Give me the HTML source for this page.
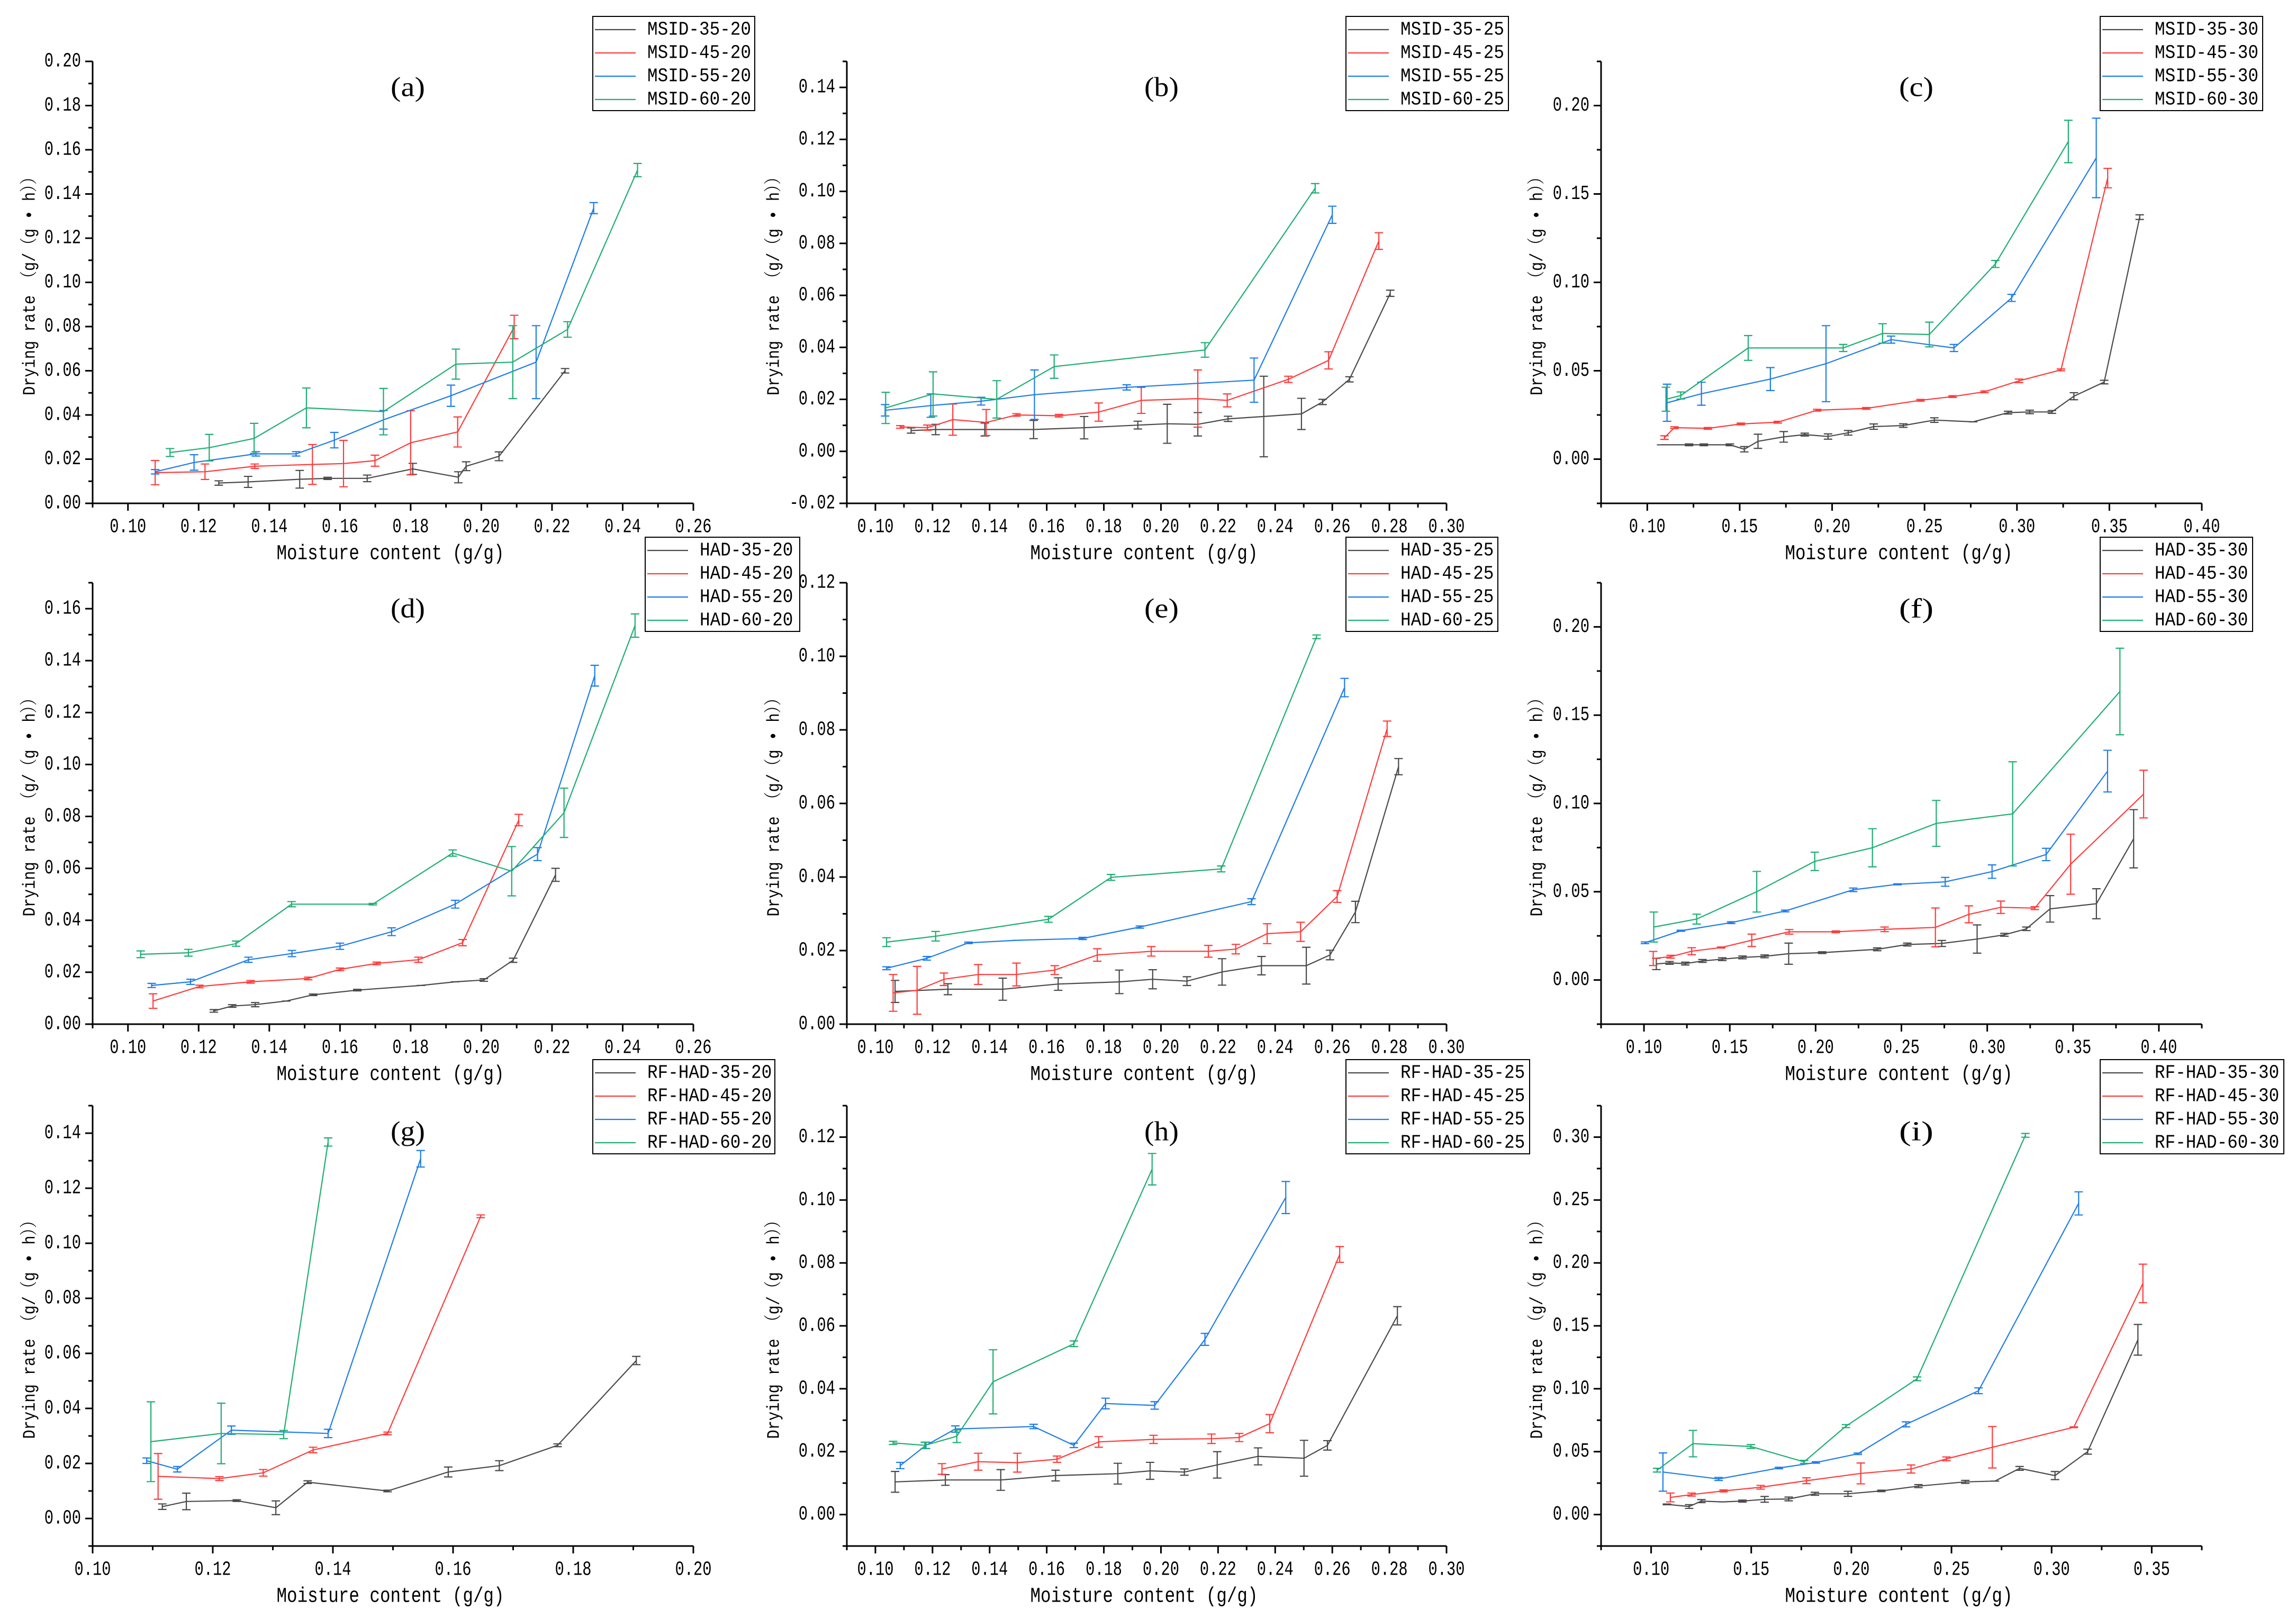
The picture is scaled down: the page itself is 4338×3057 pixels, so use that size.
<!DOCTYPE html>
<html><head><meta charset="utf-8"><style>html,body{margin:0;padding:0;background:#fff}svg{display:block}</style></head>
<body>
<svg id="fig" xmlns="http://www.w3.org/2000/svg" width="4338" height="3057" viewBox="0 0 4338 3057"></svg>
<script>
// ---- data (moisture content x, drying rate y, error e) ----
const a35x=[0.1257,0.134,0.1486,0.1565,0.1677,0.1806,0.1935,0.1957,0.205,0.2237];
const a35y=[0.0092,0.0097,0.0109,0.0113,0.0113,0.0156,0.0118,0.0168,0.0213,0.060];
const a35e=[0.001,0.0025,0.004,0.0005,0.0015,0.0025,0.0025,0.002,0.002,0.001];
const a45x=[0.1077,0.1218,0.1359,0.1522,0.161,0.1699,0.18,0.1933,0.2093];
const a45y=[0.0139,0.0143,0.0168,0.0176,0.018,0.0193,0.0274,0.0323,0.0798];
const a45e=[0.0055,0.0035,0.001,0.009,0.0105,0.0025,0.0145,0.0068,0.0053];
const a55x=[0.1077,0.1187,0.1362,0.1476,0.1584,0.1723,0.1914,0.2155,0.2318];
const a55y=[0.0143,0.0185,0.0224,0.0224,0.0286,0.0378,0.0487,0.0639,0.1336];
const a55e=[0.001,0.0035,0.001,0.001,0.0035,0.0042,0.0048,0.0165,0.0025];
const a60x=[0.1119,0.123,0.1357,0.1505,0.1723,0.1928,0.2089,0.2244,0.2442];
const a60y=[0.023,0.0252,0.0294,0.0432,0.0415,0.063,0.0639,0.0787,0.1508];
const a60e=[0.0018,0.006,0.0068,0.009,0.0105,0.0068,0.0165,0.0035,0.003];

const b35x=[0.1125,0.1211,0.1383,0.1554,0.1731,0.1919,0.2022,0.2129,0.2235,0.236,0.2492,0.2566,0.266,0.2803];
const b35y=[0.008,0.0084,0.0084,0.0084,0.0091,0.0101,0.0106,0.0104,0.0125,0.0134,0.0144,0.019,0.0277,0.0608];
const b35e=[0.001,0.002,0.0025,0.0035,0.0043,0.0015,0.0075,0.0045,0.001,0.0155,0.006,0.001,0.001,0.0012];
const b45x=[0.1087,0.1182,0.1271,0.1388,0.1494,0.1643,0.1782,0.1931,0.2129,0.2232,0.2446,0.2587,0.2763];
const b45y=[0.0094,0.0091,0.0122,0.0111,0.014,0.0137,0.0151,0.0196,0.0203,0.0196,0.0277,0.035,0.0809];
const b45e=[0.0005,0.001,0.006,0.005,0.0005,0.0005,0.0035,0.005,0.011,0.0025,0.0012,0.0033,0.0032];
const b55x=[0.1034,0.1194,0.137,0.1557,0.188,0.2326,0.26];
const b55y=[0.0158,0.0176,0.0193,0.0218,0.0246,0.0274,0.091];
const b55e=[0.0022,0.0045,0.0015,0.0095,0.001,0.0085,0.0033];
const b60x=[0.1036,0.1202,0.1425,0.1626,0.2154,0.254];
const b60y=[0.0167,0.0221,0.02,0.0326,0.039,0.1012];
const b60e=[0.006,0.0085,0.0072,0.0045,0.0028,0.0018];

const c35x=[0.1075,0.1226,0.1306,0.1447,0.1525,0.1599,0.1738,0.1852,0.1978,0.2087,0.2225,0.2385,0.2553,0.2763,0.2952,0.3069,0.3189,0.3308,0.3472,0.3664];
const c35y=[0.0081,0.0081,0.0081,0.0081,0.0056,0.0101,0.0126,0.0139,0.0128,0.0149,0.0184,0.019,0.0221,0.0211,0.0263,0.0267,0.0267,0.0356,0.0436,0.1369];
const c35e=[0,0.0005,0.0005,0.0005,0.0015,0.004,0.003,0.0008,0.0015,0.0013,0.0015,0.001,0.0013,0,0.0008,0.001,0.0008,0.002,0.001,0.0013];
const c45x=[0.1093,0.1147,0.1328,0.1506,0.1706,0.1919,0.2185,0.2478,0.2652,0.2825,0.3011,0.3238,0.3491];
const c45y=[0.0122,0.0178,0.0174,0.0199,0.0209,0.0277,0.0287,0.0333,0.0354,0.0381,0.0443,0.0505,0.159];
const c45e=[0.001,0.0005,0.0005,0.0005,0.0005,0.0005,0.0005,0.0005,0.0005,0.0005,0.001,0.0005,0.0055];
const c55x=[0.1107,0.1293,0.1666,0.1967,0.2319,0.2659,0.2971,0.3429];
const c55y=[0.0319,0.037,0.0453,0.054,0.0676,0.0629,0.0912,0.1704];
const c55e=[0.0105,0.0065,0.0065,0.0215,0.002,0.002,0.002,0.0225];
const c60x=[0.1101,0.1181,0.1546,0.206,0.2273,0.2526,0.2883,0.3278];
const c60y=[0.0339,0.036,0.0629,0.0629,0.0711,0.0705,0.1104,0.1797];
const c60e=[0.0068,0.002,0.007,0.002,0.0055,0.007,0.002,0.012];

const d35x=[0.1243,0.1295,0.136,0.1448,0.1524,0.1649,0.1829,0.1926,0.2007,0.209,0.221];
const d35y=[0.0051,0.007,0.0075,0.0089,0.0113,0.0131,0.0149,0.0163,0.017,0.0246,0.0575];
const d35e=[0.0005,0.0005,0.0008,0,0.0003,0.0003,0,0,0.0005,0.0008,0.0025];
const d45x=[0.1071,0.1202,0.1347,0.151,0.16,0.1704,0.1822,0.1947,0.2106];
const d45y=[0.0089,0.0145,0.0163,0.0176,0.0211,0.0234,0.0248,0.0314,0.0786];
const d45e=[0.0028,0.0005,0.0005,0.0005,0.0005,0.0005,0.001,0.0012,0.0022];
const d55x=[0.1067,0.1177,0.1341,0.1464,0.16,0.1746,0.1926,0.2159,0.2321];
const d55y=[0.0149,0.0163,0.0248,0.0272,0.03,0.0356,0.0462,0.0655,0.1342];
const d55e=[0.0008,0.001,0.001,0.0012,0.0012,0.0015,0.0015,0.0025,0.004];
const d60x=[0.1036,0.1171,0.1306,0.1463,0.1693,0.1919,0.2086,0.2234,0.2435];
const d60y=[0.0269,0.0275,0.031,0.0462,0.0462,0.0659,0.0589,0.0814,0.1535];
const d60e=[0.0013,0.0013,0.001,0.001,0.0003,0.0012,0.0095,0.0095,0.0045];

const e35x=[0.1069,0.1254,0.1446,0.164,0.1854,0.1971,0.2091,0.2214,0.2352,0.2509,0.2592,0.2681,0.2832];
const e35y=[0.0089,0.0095,0.0095,0.0109,0.0115,0.0122,0.0117,0.0142,0.0159,0.0159,0.0188,0.0305,0.07];
const e35e=[0.003,0.0015,0.003,0.0017,0.0032,0.0026,0.0012,0.0036,0.0025,0.005,0.0013,0.0029,0.0022];
const e45x=[0.1062,0.1146,0.124,0.136,0.1494,0.1628,0.1777,0.1966,0.2166,0.2262,0.2372,0.2489,0.2617,0.2792];
const e45y=[0.0085,0.0092,0.0122,0.0135,0.0135,0.0147,0.0188,0.0198,0.0198,0.0204,0.0246,0.0251,0.0347,0.0803];
const e45e=[0.005,0.0065,0.0017,0.0027,0.0031,0.0012,0.0017,0.0013,0.0016,0.0013,0.0027,0.0026,0.0016,0.0021];
const e55x=[0.1039,0.118,0.1326,0.1497,0.1726,0.1926,0.2317,0.2643];
const e55y=[0.0152,0.0179,0.0221,0.0228,0.0233,0.0264,0.0333,0.0915];
const e55e=[0.0004,0.0005,0.0002,0,0.0003,0.0003,0.0008,0.0025];
const e60x=[0.1039,0.1211,0.1606,0.1825,0.2211,0.2545];
const e60y=[0.0223,0.0239,0.0285,0.0399,0.0422,0.1053];
const e60e=[0.0012,0.0013,0.0008,0.0008,0.0008,0.0005];

const f35x=[0.1072,0.1149,0.1241,0.1341,0.1456,0.1574,0.1703,0.1843,0.2038,0.2359,0.2534,0.2735,0.2941,0.31,0.3228,0.3366,0.3636,0.3853];
const f35y=[0.0091,0.0097,0.0093,0.0108,0.0118,0.0128,0.0134,0.0149,0.0155,0.0174,0.0201,0.0207,0.0232,0.0256,0.029,0.0403,0.0432,0.08];
const f35e=[0.0032,0.0008,0.0008,0.0008,0.0008,0.0008,0.0008,0.006,0.0005,0.0008,0.0008,0.0017,0.008,0.0008,0.001,0.0075,0.0085,0.0165];
const f45x=[0.1054,0.1155,0.1278,0.145,0.1628,0.1846,0.2118,0.2402,0.2698,0.2893,0.3079,0.3277,0.3486,0.3911];
const f45y=[0.0122,0.0132,0.0163,0.0184,0.0225,0.0273,0.0273,0.0287,0.0298,0.0372,0.0412,0.0407,0.0656,0.1053];
const f45e=[0.004,0.0008,0.002,0.0003,0.0035,0.0013,0.0005,0.0013,0.011,0.0048,0.0035,0.0008,0.017,0.0135];
const f55x=[0.1006,0.1215,0.1508,0.1823,0.2219,0.2477,0.2755,0.3028,0.3343,0.3701];
const f55y=[0.0211,0.0279,0.0325,0.0391,0.0511,0.0542,0.0556,0.0614,0.0711,0.1183];
const f55e=[0.0005,0.0003,0.0005,0.0005,0.001,0.0003,0.0025,0.0038,0.0035,0.0118];
const f60x=[0.1057,0.1307,0.1657,0.1995,0.2331,0.2703,0.3148,0.3773];
const f60y=[0.03,0.0345,0.05,0.0672,0.0749,0.0887,0.0941,0.1634];
const f60e=[0.0085,0.0028,0.0115,0.0052,0.0108,0.013,0.0295,0.0245];

const g35x=[0.1116,0.1156,0.124,0.1305,0.1358,0.1491,0.1592,0.1677,0.1774,0.1905];
const g35y=[0.0043,0.0062,0.0065,0.0039,0.0132,0.01,0.0169,0.0192,0.0266,0.0574];
const g35e=[0.001,0.003,0.0003,0.0025,0.0005,0.0003,0.0018,0.0018,0.0005,0.0015];
const g45x=[0.1109,0.1211,0.1284,0.1367,0.1491,0.1646];
const g45y=[0.0153,0.0145,0.0166,0.0249,0.0309,0.1098];
const g45e=[0.0083,0.0007,0.0012,0.001,0.0005,0.0005];
const g55x=[0.109,0.1141,0.1231,0.1392,0.1546];
const g55y=[0.021,0.0179,0.0321,0.0309,0.1307];
const g55e=[0.001,0.001,0.0015,0.0015,0.003];
const g60x=[0.1097,0.1214,0.1318,0.1392];
const g60y=[0.0279,0.0309,0.0305,0.1368];
const g60e=[0.0145,0.011,0.0015,0.0015];

const h35x=[0.1069,0.1245,0.1439,0.1631,0.1849,0.1962,0.2082,0.2197,0.234,0.2501,0.2583,0.2828];
const h35y=[0.0104,0.011,0.011,0.0124,0.013,0.0139,0.0135,0.0158,0.0185,0.0179,0.022,0.0632];
const h35e=[0.0033,0.0017,0.0033,0.0017,0.0033,0.0027,0.001,0.0042,0.0027,0.0057,0.0015,0.0029];
const h45x=[0.1233,0.136,0.1497,0.1636,0.1782,0.1974,0.2177,0.2274,0.2381,0.2626];
const h45y=[0.0145,0.0168,0.0165,0.0176,0.0231,0.0239,0.0241,0.0245,0.0289,0.0827];
const h45e=[0.0017,0.0027,0.003,0.001,0.0017,0.0013,0.0015,0.0013,0.0029,0.0025];
const h55x=[0.1087,0.1177,0.128,0.1554,0.1695,0.1806,0.1978,0.2154,0.2437];
const h55y=[0.0156,0.022,0.0272,0.028,0.022,0.0353,0.0347,0.0557,0.1008];
const h55e=[0.001,0.001,0.001,0.0007,0.0007,0.0017,0.0012,0.0019,0.0051];
const h60x=[0.1062,0.1173,0.1285,0.1412,0.1695,0.1969];
const h60y=[0.0228,0.022,0.0249,0.0422,0.0543,0.1098];
const h60e=[0.0005,0.001,0.002,0.0102,0.0009,0.005];

const i35x=[0.1079,0.119,0.1251,0.1357,0.1456,0.1567,0.1687,0.1818,0.1983,0.215,0.2335,0.2569,0.2717,0.284,0.3017,0.318,0.3431];
const i35y=[0.0081,0.0064,0.0107,0.0101,0.0107,0.0121,0.0124,0.0165,0.0165,0.0188,0.0226,0.026,0.0266,0.0367,0.031,0.05,0.1389];
const i35e=[0.0003,0.0015,0.0012,0,0.0008,0.0023,0.0015,0.0012,0.002,0.0006,0.0012,0.0012,0,0.0015,0.0032,0.002,0.0122];
const i45x=[0.1096,0.1202,0.1362,0.1547,0.1776,0.2047,0.2298,0.2475,0.2704,0.3111,0.3456];
const i45y=[0.0136,0.0159,0.0188,0.0217,0.0269,0.0327,0.0362,0.0443,0.0535,0.0694,0.1837];
const i45e=[0.0035,0.0012,0.0008,0.0015,0.0023,0.0083,0.0032,0.0015,0.0165,0.0003,0.0153];
const i55x=[0.1059,0.1337,0.1638,0.1823,0.2032,0.2273,0.2635,0.3135];
const i55y=[0.0338,0.0283,0.037,0.0414,0.0483,0.0717,0.0984,0.2473];
const i55e=[0.0152,0.0012,0.0006,0.0006,0.0006,0.002,0.0023,0.0092];
const i60x=[0.103,0.1209,0.1498,0.1764,0.1973,0.2328,0.2869];
const i60y=[0.0353,0.0564,0.0541,0.0419,0.0703,0.1079,0.3014];
const i60e=[0.0015,0.0105,0.0015,0.0012,0.0012,0.0015,0.0015];

const temps=["35","45","55","60"];
const colors=["#4a4a4a","#ff3b3b","#1f7de8","#1fae73"];

const NS="http://www.w3.org/2000/svg";
const svg=document.getElementById("fig");
function mk(tag,attrs,parent){const e=document.createElementNS(NS,tag);for(const k in attrs)e.setAttribute(k,attrs[k]);(parent||svg).appendChild(e);return e;}

const cols=[[175,1310],[1600,2733],[3025,4160]];
const rows=[[116,951],[1101,1935],[2089,2921]];
const panels=[
 {id:"a",pre:"MSID",suf:"20",c:0,r:0,x:[0.09,0.26,0.10,0.26,0.02],y:[0,0.20,0,0.20,0.02],lg:[1120,31,306],series:[[a35x,a35y,a35e],[a45x,a45y,a45e],[a55x,a55y,a55e],[a60x,a60y,a60e]]},
 {id:"b",pre:"MSID",suf:"25",c:1,r:0,x:[0.09,0.30,0.10,0.30,0.02],y:[-0.02,0.15,-0.02,0.14,0.02],lg:[2543,31,307],series:[[b35x,b35y,b35e],[b45x,b45y,b45e],[b55x,b55y,b55e],[b60x,b60y,b60e]]},
 {id:"c",pre:"MSID",suf:"30",c:2,r:0,x:[0.075,0.40,0.10,0.40,0.05],y:[-0.025,0.225,0,0.20,0.05],lg:[3968,31,307],series:[[c35x,c35y,c35e],[c45x,c45y,c45e],[c55x,c55y,c55e],[c60x,c60y,c60e]]},
 {id:"d",pre:"HAD",suf:"20",c:0,r:1,x:[0.09,0.26,0.10,0.26,0.02],y:[0,0.17,0,0.16,0.02],lg:[1219,1015,292],series:[[d35x,d35y,d35e],[d45x,d45y,d45e],[d55x,d55y,d55e],[d60x,d60y,d60e]]},
 {id:"e",pre:"HAD",suf:"25",c:1,r:1,x:[0.09,0.30,0.10,0.30,0.02],y:[0,0.12,0,0.12,0.02],lg:[2543,1015,287],series:[[e35x,e35y,e35e],[e45x,e45y,e45e],[e55x,e55y,e55e],[e60x,e60y,e60e]]},
 {id:"f",pre:"HAD",suf:"30",c:2,r:1,x:[0.075,0.425,0.10,0.40,0.05],y:[-0.025,0.225,0,0.20,0.05],lg:[3968,1015,288],series:[[f35x,f35y,f35e],[f45x,f45y,f45e],[f55x,f55y,f55e],[f60x,f60y,f60e]]},
 {id:"g",pre:"RF-HAD",suf:"20",c:0,r:2,x:[0.10,0.20,0.10,0.20,0.02],y:[-0.01,0.15,0,0.14,0.02],lg:[1120,2002,344],series:[[g35x,g35y,g35e],[g45x,g45y,g45e],[g55x,g55y,g55e],[g60x,g60y,g60e]]},
 {id:"h",pre:"RF-HAD",suf:"25",c:1,r:2,x:[0.09,0.30,0.10,0.30,0.02],y:[-0.01,0.13,0,0.12,0.02],lg:[2543,2002,347],series:[[h35x,h35y,h35e],[h45x,h45y,h45e],[h55x,h55y,h55e],[h60x,h60y,h60e]]},
 {id:"i",pre:"RF-HAD",suf:"30",c:2,r:2,x:[0.075,0.375,0.10,0.35,0.05],y:[-0.025,0.325,0,0.30,0.05],lg:[3968,2002,347],series:[[i35x,i35y,i35e],[i45x,i45y,i45e],[i55x,i55y,i55e],[i60x,i60y,i60e]]}
];
const ylabX=[57,1463,2905];
const MONO='"Liberation Mono", monospace';

panels.forEach(p=>{
  const [L,R]=cols[p.c],[T,B]=rows[p.r];
  const g=mk("g",{});
  
  
  const X=v=>L+(v-p.x[0])/(p.x[1]-p.x[0])*(R-L);
  const Y=v=>B-(v-p.y[0])/(p.y[1]-p.y[0])*(B-T);
  // axes
  const ax=mk("path",{d:`M${L},${T} L${L},${B} L${R},${B}`,fill:"none",stroke:"#000","stroke-width":3},g);
  
  
  // x ticks
  const xs=p.x[4],nx=Math.round((p.x[1]-p.x[0])/(xs/2));
  for(let k=0;k<=nx+1;k++){
    const v=p.x[2]+ (k-Math.round((p.x[2]-p.x[0])/(xs/2)))*xs/2;
    if(v<p.x[0]-1e-9||v>p.x[1]+1e-9)continue;
    const major=Math.abs(((v-p.x[2])/xs)-Math.round((v-p.x[2])/xs))<1e-6;
    const px=X(v);
    mk("line",{x1:px,y1:B,x2:px,y2:B+(major?14:8),stroke:"#000","stroke-width":3},g);
    if(major&&v<=p.x[3]+1e-9){
      const t=mk("text",{x:px,y:B+45,"text-anchor":"middle","dominant-baseline":"central","font-family":MONO,"font-size":38,textLength:69,lengthAdjust:"spacingAndGlyphs",fill:"#000"},g);
      t.textContent=v.toFixed(2);
      
      
    }
  }
  // y ticks
  const ys=p.y[4];
  for(let v=p.y[2]-ys;v<=p.y[1]+1e-9;v+=ys/2){
    if(v<p.y[0]-1e-9)continue;
    const major=Math.abs(((v-p.y[2])/ys)-Math.round((v-p.y[2])/ys))<1e-6;
    const py=Y(v);
    mk("line",{x1:L,y1:py,x2:L-(major?14:8),y2:py,stroke:"#000","stroke-width":3},g);
    if(major&&v>=p.y[2]-ys-1e-9&&v<=p.y[3]+1e-9){
      const s=(v<0?"-":"")+Math.abs(v).toFixed(2);
      const t=mk("text",{x:L-22,y:py,"text-anchor":"end","dominant-baseline":"central","font-family":MONO,"font-size":38,textLength:s.length*17.3,lengthAdjust:"spacingAndGlyphs",fill:"#000"},g);
      t.textContent=s;
      
      
    }
  }
  // axis titles
  const xt=mk("text",{x:(L+R)/2-5,y:B+96,"text-anchor":"middle","dominant-baseline":"central","font-family":MONO,"font-size":40,textLength:430,lengthAdjust:"spacingAndGlyphs",fill:"#000"},g);
  xt.textContent="Moisture content (g/g)";
  
  
  const cy=(T+B)/2;
  const yt=mk("text",{x:ylabX[p.c],y:cy,transform:`rotate(-90 ${ylabX[p.c]} ${cy})`,"text-anchor":"middle","dominant-baseline":"central","font-family":'"Liberation Mono","Noto Serif CJK SC",monospace',"font-size":33,textLength:427,lengthAdjust:"spacingAndGlyphs",fill:"#000"},g);
  yt.textContent="Drying rate （g/（g • h））";
  
  
  // panel letter
  const pl=mk("text",{x:(L+R)/2+28,y:T+49,"text-anchor":"middle","dominant-baseline":"central","font-family":'"Liberation Serif",serif',"font-size":52,textLength:65,lengthAdjust:"spacingAndGlyphs",fill:"#000"},g);
  pl.textContent="("+p.id+")";
  
  
  // series
  p.series.forEach((s,si)=>{
    const [xv,yv,ev]=s;const col=colors[si];
    const sg=mk("g",{},g);
    
    
    const d=xv.map((v,k)=>(k?"L":"M")+X(v).toFixed(1)+","+Y(yv[k]).toFixed(1)).join(" ");
    const ln=mk("path",{d:d,fill:"none",stroke:col,"stroke-width":2.2},sg);
    
    
    xv.forEach((v,k)=>{
      const px=X(v),y1=Y(yv[k]+ev[k]),y2=Y(yv[k]-ev[k]);
      const eb=mk("path",{d:`M${px},${y1} L${px},${y2} M${px-8},${y1} L${px+8},${y1} M${px-8},${y2} L${px+8},${y2}`,fill:"none",stroke:col,"stroke-width":2.2},sg);
      
      
    });
  });
  // legend
  const [lx,ly,lw]=p.lg;
  const lg=mk("g",{},g);
  
  
  mk("rect",{x:lx,y:ly,width:lw,height:178,fill:"#fff",stroke:"#000","stroke-width":2},lg);
  temps.forEach((tp,si)=>{
    const ry=ly+25+si*44;
    const e=mk("g",{},lg);
    
    
    mk("line",{x1:lx+4,y1:ry,x2:lx+81,y2:ry,stroke:colors[si],"stroke-width":2.2},e);
    const lab=p.pre+"-"+tp+"-"+p.suf;
    const t=mk("text",{x:lx+103,y:ry,"dominant-baseline":"central","font-family":MONO,"font-size":36,textLength:lab.length*19.6,lengthAdjust:"spacingAndGlyphs",fill:"#000"},e);
    t.textContent=lab;
  });
});
</script>
</body></html>
